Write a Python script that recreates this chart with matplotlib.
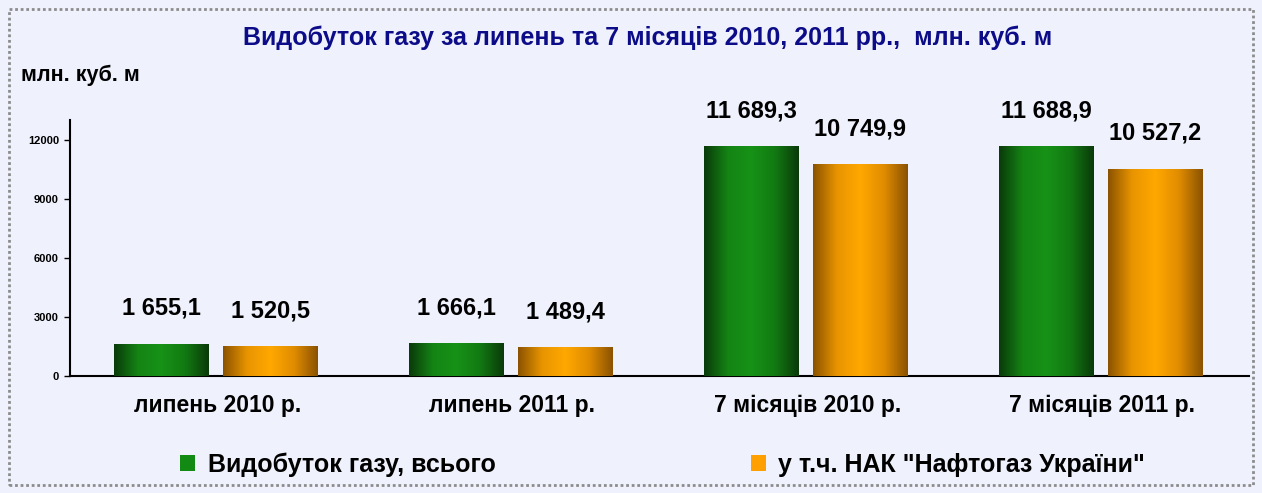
import numpy as np
import matplotlib.pyplot as plt
from matplotlib.colors import LinearSegmentedColormap
from matplotlib.patches import Rectangle

plt.rcParams['font.family'] = ['Liberation Sans', 'DejaVu Sans']

# Data
categories = ['липень 2010 р.', 'липень 2011 р.', '7 місяців 2010 р.', '7 місяців 2011 р.']
total = [1655.1, 1666.1, 11689.3, 11688.9]
naftogaz = [1520.5, 1489.4, 10749.9, 10527.2]
series_names = ['Видобуток газу, всього', 'у т.ч. НАК "Нафтогаз України"']
yticks = [0, 3000, 6000, 9000, 12000]

bg = '#eff1fc'
fig = plt.figure(figsize=(12.62, 4.93), dpi=100, facecolor=bg)
ax = fig.add_axes([0.0555, 0.237, 0.9345, 0.52])
ax.set_facecolor('none')

x = np.arange(len(categories))
w = 0.32
b1 = ax.bar(x - 0.19, total, w, color='#138a13', label=series_names[0], zorder=2)
b2 = ax.bar(x + 0.18, naftogaz, w, color='#ffa000', label=series_names[1], zorder=2)

# cylinder-like shading
green_cm = LinearSegmentedColormap.from_list('g', ['#0a3a0a', '#148414', '#179217', '#127a12', '#0a3a0a'])
orange_cm = LinearSegmentedColormap.from_list('o', ['#8a5200', '#e89400', '#ffa800', '#e08c00', '#8a5200'])
grad = np.linspace(0, 1, 256).reshape(1, -1)
for bars, cm in ((b1, green_cm), (b2, orange_cm)):
    for p in bars:
        x0, y0 = p.get_x(), p.get_y()
        im = ax.imshow(grad, cmap=cm, aspect='auto', zorder=3,
                       extent=(x0, x0 + p.get_width(), y0, y0 + p.get_height()))
        im.set_clip_path(p)

def fmt(v):
    s = f'{v:,.1f}'
    return s.replace(',', ' ').replace('.', ',')

for bars, vals in ((b1, total), (b2, naftogaz)):
    for p, v in zip(bars, vals):
        ax.annotate(fmt(v), (p.get_x() + p.get_width() / 2, v), xytext=(0, 17),
                    textcoords='offset points', ha='center', va='bottom',
                    fontsize=17, fontweight='bold')

ax.set_xlim(-0.5, 3.5)
ax.set_ylim(0, 13000)
ax.set_yticks(yticks)
ax.set_yticklabels([str(t) for t in yticks], fontsize=8, fontweight='bold')
ax.set_xticks(x)
ax.set_xticklabels(categories, fontsize=16.5, fontweight='bold')
ax.tick_params(axis='x', length=0, pad=13)
ax.tick_params(axis='y', length=4, width=1, pad=4)
for s in ('top', 'right'):
    ax.spines[s].set_visible(False)
for s in ('left', 'bottom'):
    ax.spines[s].set_linewidth(1.5)

fig.text(0.513, 0.923, 'Видобуток газу за липень та 7 місяців 2010, 2011 рр.,  млн. куб. м',
         ha='center', va='center', fontsize=18, fontweight='bold', color='#0c0c88')
fig.text(0.017, 0.848, 'млн. куб. м', ha='left', va='center', fontsize=15.5, fontweight='bold')

fig.legend(handles=[b1, b2], loc='center', bbox_to_anchor=(0.525, 0.057), ncol=2,
           frameon=False, prop={'weight': 'bold', 'size': 18},
           handlelength=0.6, handleheight=0.6, handletextpad=0.5, columnspacing=10.2)

fig.patches.append(Rectangle((0.007, 0.016), 0.986, 0.966, transform=fig.transFigure,
                             fill=False, edgecolor='#8c8c8c', linewidth=2, linestyle=(0, (1, 1))))

fig.savefig('out.png', dpi=100, facecolor=bg)
